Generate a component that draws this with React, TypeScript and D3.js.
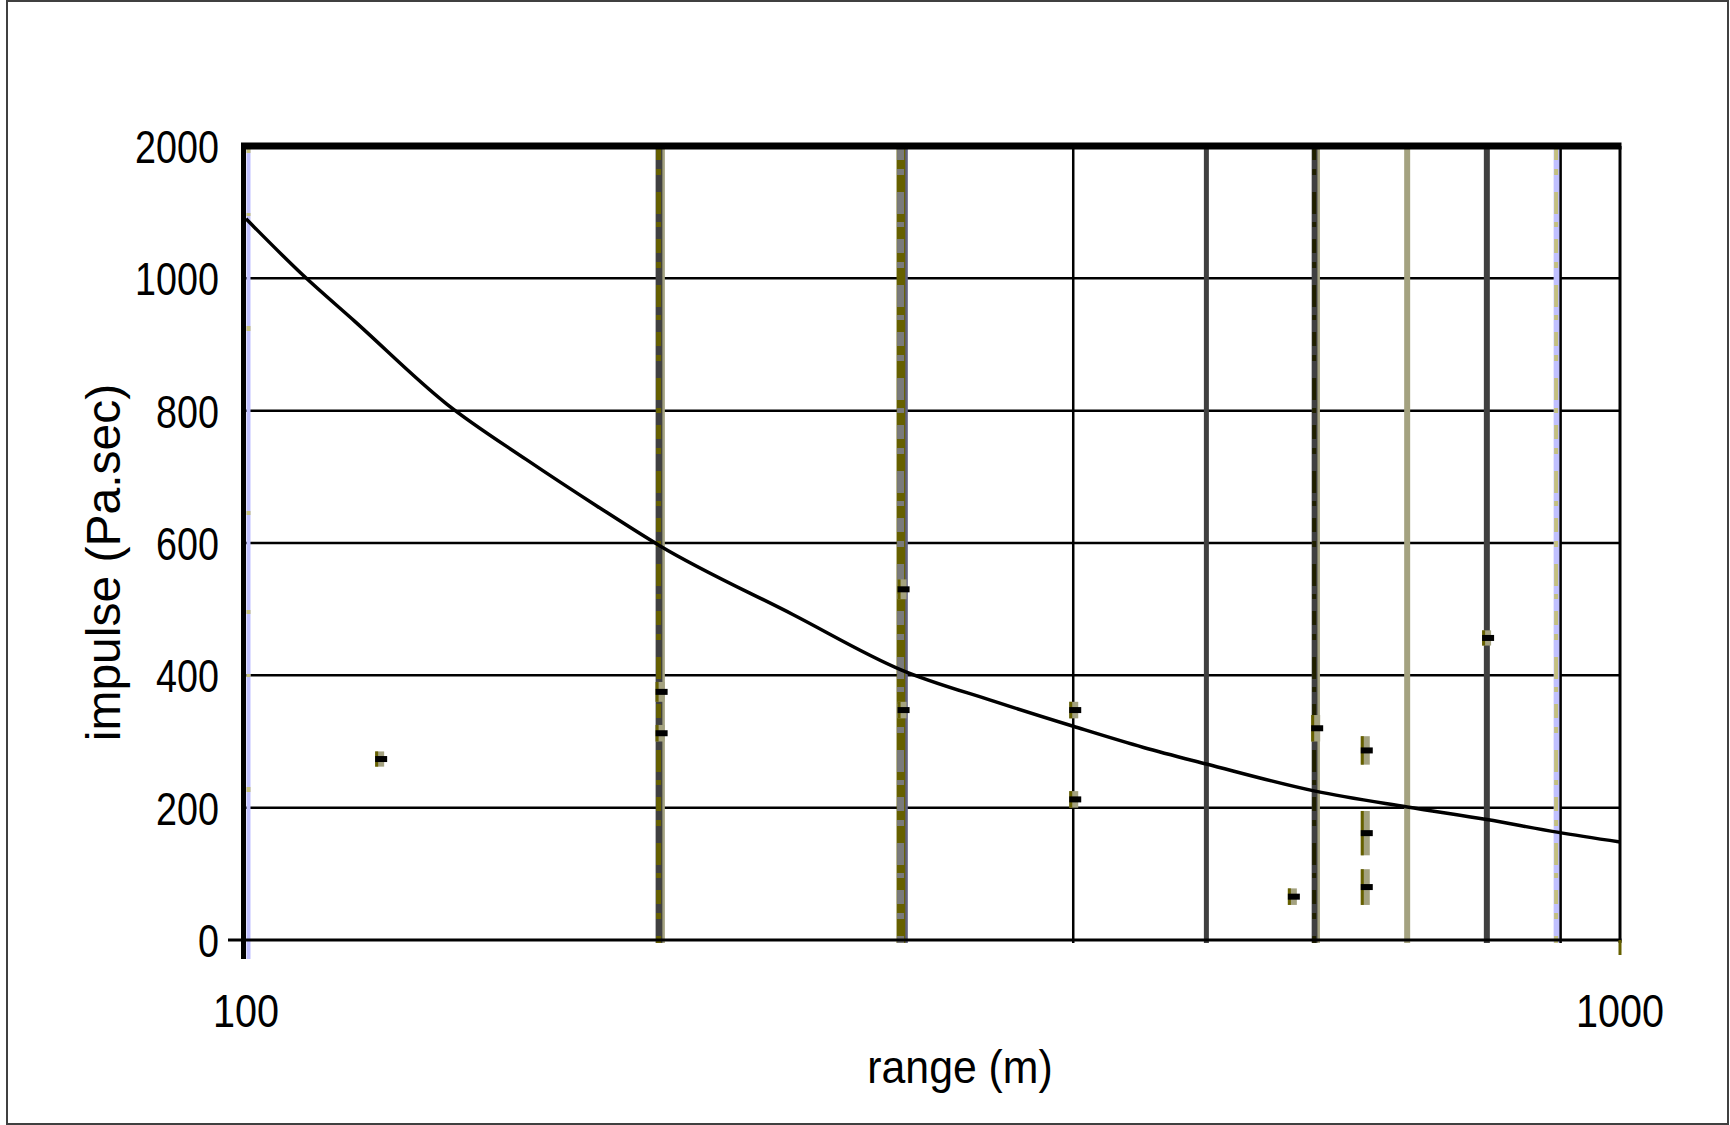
import { useEffect, useRef } from "react";
import * as d3 from "d3";

// curve: range (m) vs impulse (Pa.sec)
const ranges = [100, 110, 120, 140, 160, 180, 200, 250, 300, 350, 400, 450, 500, 600, 700, 800, 900, 1000];
const impulse = [1090, 1005, 935, 810, 726, 656, 596, 492, 408, 361, 323, 291, 266, 225, 201, 182, 163, 148];

// stray marks scattered in the plot (range, low, high)
const markRanges = [125, 200, 200, 300, 300, 400, 400, 600, 577, 652, 652, 652, 799];
const markLow = [262, 360, 300, 515, 335, 335, 200, 300, 53, 265, 128, 53, 445];
const markHigh = [285, 390, 325, 545, 360, 360, 225, 340, 78, 308, 195, 107, 468];

const yTickValues = [0, 200, 400, 600, 800, 1000, 1200];
const yTickLabels = ["0", "200", "400", "600", "800", "1000", "2000"];
const xGridValues = [200, 300, 400, 500, 600, 700, 800, 900];
const xTickValues = [100, 1000];
const xTickLabels = ["100", "1000"];

const W = 1730;
const H = 1125;
const margin = { left: 246, right: 110, top: 146, bottom: 182 };

const GRID_STYLE: Record<number, { base: string; w: number; over?: string; edge?: string }> = {
  200: { base: "#404040", w: 8, over: "#666000", edge: "#a4a280" },
  300: { base: "#666000", w: 10, over: "#7a7a7a", edge: "#606080" },
  400: { base: "#000000", w: 2.5 },
  500: { base: "#404040", w: 5 },
  600: { base: "#404040", w: 7, over: "#202000", edge: "#a4a280" },
  700: { base: "#a4a280", w: 6 },
  800: { base: "#404040", w: 6 },
  900: { base: "#c0c0ff", w: 7, over: "#c4c080", edge: "#000000" },
};

const FONT = "'Liberation Sans', Arial, sans-serif";

export default function App() {
  const svgRef = useRef<SVGSVGElement>(null);

  useEffect(() => {
    if (!svgRef.current) return;
    const svg = d3.select(svgRef.current);
    svg.selectAll("*").remove();

    const x0 = margin.left;
    const x1 = W - margin.right;
    const y0 = H - margin.bottom;
    const y1 = margin.top;

    const x = d3.scaleLog().domain([100, 1000]).range([x0, x1]);
    const y = d3.scaleLinear().domain([0, 1200]).range([y0 - 3, y1]);

    // outer frame
    svg.append("rect")
      .attr("x", 7).attr("y", 1)
      .attr("width", W - 9).attr("height", H - 2)
      .attr("fill", "#fff")
      .attr("stroke", "#404040")
      .attr("stroke-width", 2);

    // horizontal grid
    svg.selectAll("line.hgrid")
      .data(yTickValues.slice(1, -1))
      .join("line")
      .attr("x1", x0).attr("x2", x1)
      .attr("y1", (d) => y(d)).attr("y2", (d) => y(d))
      .attr("stroke", "#000").attr("stroke-width", 2.5);

    // vertical grid
    xGridValues.forEach((v) => {
      const s = GRID_STYLE[v];
      const gx = x(v);
      svg.append("line")
        .attr("x1", gx).attr("x2", gx).attr("y1", y1).attr("y2", y0)
        .attr("stroke", s.base).attr("stroke-width", s.w);
      if (s.over) {
        svg.append("line")
          .attr("x1", gx - 1).attr("x2", gx - 1).attr("y1", y1).attr("y2", y0)
          .attr("stroke", s.over).attr("stroke-width", s.w - 3)
          .attr("stroke-dasharray", "14,9,6,17,22,8,5,12");
      }
      if (s.edge) {
        svg.append("line")
          .attr("x1", gx + s.w / 2).attr("x2", gx + s.w / 2).attr("y1", y1).attr("y2", y0)
          .attr("stroke", s.edge).attr("stroke-width", 2.5);
      }
    });

    // left axis with pale inner stripe
    svg.append("line")
      .attr("x1", x0 - 2.5).attr("x2", x0 - 2.5).attr("y1", y1 - 3).attr("y2", y0 + 16)
      .attr("stroke", "#000").attr("stroke-width", 5);
    svg.append("line")
      .attr("x1", x0 + 2.5).attr("x2", x0 + 2.5).attr("y1", y1 + 3).attr("y2", y0 + 16)
      .attr("stroke", "#c0c0ff").attr("stroke-width", 4);
    svg.append("line")
      .attr("x1", x0 + 2.5).attr("x2", x0 + 2.5).attr("y1", y1 + 3).attr("y2", y0 + 16)
      .attr("stroke", "#c4c080").attr("stroke-width", 4)
      .attr("stroke-dasharray", "4,60,3,110,5,180,4,95");

    // right border, top border, bottom axis
    svg.append("line")
      .attr("x1", x1).attr("x2", x1).attr("y1", y1).attr("y2", y0)
      .attr("stroke", "#000").attr("stroke-width", 3);
    svg.append("line")
      .attr("x1", x0 - 5).attr("x2", x1 + 1.5).attr("y1", y1).attr("y2", y1)
      .attr("stroke", "#000").attr("stroke-width", 7);
    svg.append("line")
      .attr("x1", x0 - 18).attr("x2", x1 + 1.5).attr("y1", y(0)).attr("y2", y(0))
      .attr("stroke", "#000").attr("stroke-width", 3);
    svg.append("line")
      .attr("x1", x1).attr("x2", x1).attr("y1", y(0)).attr("y2", y(0) + 15)
      .attr("stroke", "#666000").attr("stroke-width", 3);

    // stray marks
    markRanges.forEach((r, i) => {
      const mx = x(r);
      const top = y(markHigh[i]);
      const bot = y(markLow[i]);
      svg.append("rect")
        .attr("x", mx - 4).attr("y", top)
        .attr("width", 9).attr("height", bot - top)
        .attr("fill", "#a4a280");
      svg.append("rect")
        .attr("x", mx - 4).attr("y", top)
        .attr("width", 3).attr("height", bot - top)
        .attr("fill", "#666000");
      svg.append("rect")
        .attr("x", mx - 4).attr("y", (top + bot) / 2 - 3)
        .attr("width", 12).attr("height", 6)
        .attr("fill", "#000");
    });

    // curve
    const line = d3.line<number>()
      .x((_, i) => x(ranges[i]))
      .y((d) => y(d))
      .curve(d3.curveMonotoneX);
    svg.append("path")
      .datum(impulse)
      .attr("d", line)
      .attr("fill", "none")
      .attr("stroke", "#000")
      .attr("stroke-width", 3.5);

    // y tick labels
    const fs = 46;
    yTickValues.forEach((v, i) => {
      svg.append("g")
        .attr("transform", `translate(${x0 - 27},${y(v) + 17}) scale(0.82,1)`)
        .append("text")
        .attr("text-anchor", "end")
        .attr("font-family", FONT)
        .attr("font-size", fs)
        .attr("fill", "#000")
        .text(yTickLabels[i]);
    });

    // x tick labels
    xTickValues.forEach((v, i) => {
      svg.append("g")
        .attr("transform", `translate(${x(v)},${y0 + 84}) scale(0.86,1)`)
        .append("text")
        .attr("text-anchor", "middle")
        .attr("font-family", FONT)
        .attr("font-size", fs)
        .attr("fill", "#000")
        .text(xTickLabels[i]);
    });

    // axis titles
    svg.append("g")
      .attr("transform", `translate(${(x0 + x1) / 2 + 27},${y0 + 140}) scale(0.93,1)`)
      .append("text")
      .attr("text-anchor", "middle")
      .attr("font-family", FONT)
      .attr("font-size", fs)
      .attr("fill", "#000")
      .text("range (m)");

    svg.append("g")
      .attr("transform", `translate(120,${(y0 + y1) / 2 + 18}) rotate(-90)`)
      .append("text")
      .attr("text-anchor", "middle")
      .attr("font-family", FONT)
      .attr("font-size", 48)
      .attr("fill", "#000")
      .text("impulse (Pa.sec)");
  }, []);

  return (
    <svg
      ref={svgRef}
      width={W}
      height={H}
      style={{ position: "absolute", left: 0, top: 0, background: "#fff" }}
    />
  );
}
